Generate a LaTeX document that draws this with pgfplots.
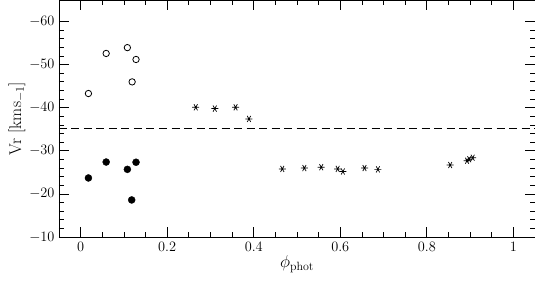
\documentclass[border=0pt]{standalone}
\usepackage{pgfplots}
\pgfplotsset{compat=1.18}
\begin{document}
\begin{tikzpicture}
\begin{axis}[
 scale only axis, width=476bp, height=237bp,
 xmin=-0.05, xmax=1.05, ymin=-65, ymax=-10, y dir=reverse,
 xtick={0,0.2,0.4,0.6,0.8,1}, ytick={-60,-50,-40,-30,-20,-10},
 minor x tick num=3, minor y tick num=4,
 tick align=inside, major tick length=10bp, minor tick length=5bp,
 axis line style={line width=0.9pt},
 every tick/.style={line width=0.8pt, black},
 tick label style={font=\fontsize{14.5}{16}\selectfont},
 xticklabel style={yshift=-2bp},
 yticklabel style={xshift=-1bp},
 xlabel={$\phi_{\mathrm{phot}}$}, ylabel={Vr [kms$_{-1}$]},
 label style={font=\fontsize{17}{19}\selectfont},
 xlabel style={yshift=3bp},
 ylabel style={yshift=-3bp},
]
\addplot[black, dash pattern=on 8bp off 4.5bp, line width=0.9pt] coordinates {(-0.05,-35.3) (1.05,-35.3)};
\addplot[only marks, mark=o, mark size=3.2bp, mark options={line width=0.8pt}] coordinates {
(0.018,-43.3) (0.059,-52.6) (0.108,-53.95) (0.128,-51.2) (0.119,-46.0)};
\addplot[only marks, mark=*, mark size=3.5bp, black] coordinates {
(0.018,-23.7) (0.059,-27.4) (0.108,-25.7) (0.128,-27.35) (0.118,-18.6)};
\addplot[only marks, mark=asterisk, mark size=3.5bp, mark options={rotate=90, line width=0.7pt}] coordinates {
(0.266,-40.1) (0.31,-39.8) (0.358,-40.1) (0.389,-37.4)
(0.466,-25.8) (0.517,-26.0) (0.556,-26.2) (0.594,-25.8) (0.606,-25.2)
(0.656,-26.0) (0.687,-25.7) (0.854,-26.7) (0.893,-27.7) (0.898,-28.05) (0.906,-28.4)};
\end{axis}
\pgfresetboundingbox
\path (-59bp,-47bp) rectangle (476bp,237bp);
\end{tikzpicture}
\end{document}
